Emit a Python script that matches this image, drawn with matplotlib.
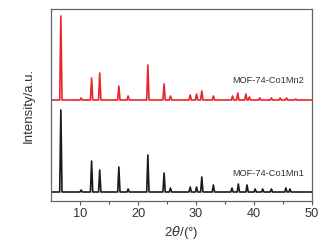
import numpy as np
import matplotlib.pyplot as plt

plt.rcParams['font.family'] = ['Liberation Sans', 'DejaVu Sans']

# peak positions (2theta) and heights
pos_mn2 = [6.7, 10.2, 12.0, 13.4, 16.7, 18.3, 21.7, 24.5, 25.6, 29.0, 30.1, 31.0,
           33.0, 36.3, 37.2, 38.6, 39.2, 41.0, 43.0, 44.5, 45.6, 47.2]
h_mn2 = [84, 2, 22, 27, 14, 4, 35, 16, 4, 5, 6, 9,
         4, 4, 7, 6, 3, 2, 2, 2, 2, 1]

pos_mn1 = [6.7, 10.2, 12.0, 13.4, 16.7, 18.3, 21.7, 24.5, 25.6, 29.0, 30.1, 31.0,
           33.0, 36.2, 37.3, 38.8, 40.2, 41.5, 43.0, 45.5, 46.2]
h_mn1 = [82, 2, 31, 22, 25, 3, 37, 19, 4, 5, 5, 15,
         7, 4, 8, 7, 3, 3, 3, 4, 3]

base_mn2 = 101
base_mn1 = 9
half_w = 0.2


def pattern(pos, h, base):
    xs, ys = [5.0], [base]
    for p, v in zip(pos, h):
        xs += [p - half_w, p, p + half_w]
        ys += [base, base + v, base]
    xs.append(50.0)
    ys.append(base)
    return xs, ys


fig = plt.figure(figsize=(3.28, 2.49), dpi=100)
ax = fig.add_axes([51 / 328, 1 - 201 / 249, 261 / 328, 192 / 249])

x2, y2 = pattern(pos_mn2, h_mn2, base_mn2)
x1, y1 = pattern(pos_mn1, h_mn1, base_mn1)
ax.plot(x2, y2, color='#e8262a', lw=1.2)
ax.plot(x1, y1, color='#1a1a1a', lw=1.2)

ax.text(48.6, 121, 'MOF-74-Co1Mn2', ha='right', va='center', fontsize=6.7, color='#333333')
ax.text(48.6, 28, 'MOF-74-Co1Mn1', ha='right', va='center', fontsize=6.7, color='#333333')

ax.set_xlim(5, 50)
ax.set_ylim(0, 192)
ax.set_xticks([10, 20, 30, 40, 50])
ax.set_xticks([15, 25, 35, 45], minor=True)
ax.set_yticks([])
ax.tick_params(axis='x', direction='out', length=3, width=0.8, colors='#555555',
               labelsize=9.2, labelcolor='#333333', pad=2)
ax.tick_params(axis='x', which='minor', direction='out', length=2, width=0.8, colors='#555555')
for s in ax.spines.values():
    s.set_color('#666666')
    s.set_linewidth(0.9)

ax.set_xlabel(r'2$\it{\theta}$/(°)', fontsize=9.5, color='#333333', labelpad=3)
ax.set_ylabel('Intensity/a.u.', fontsize=9.5, color='#333333', labelpad=12)

fig.savefig('out.png', dpi=100)
